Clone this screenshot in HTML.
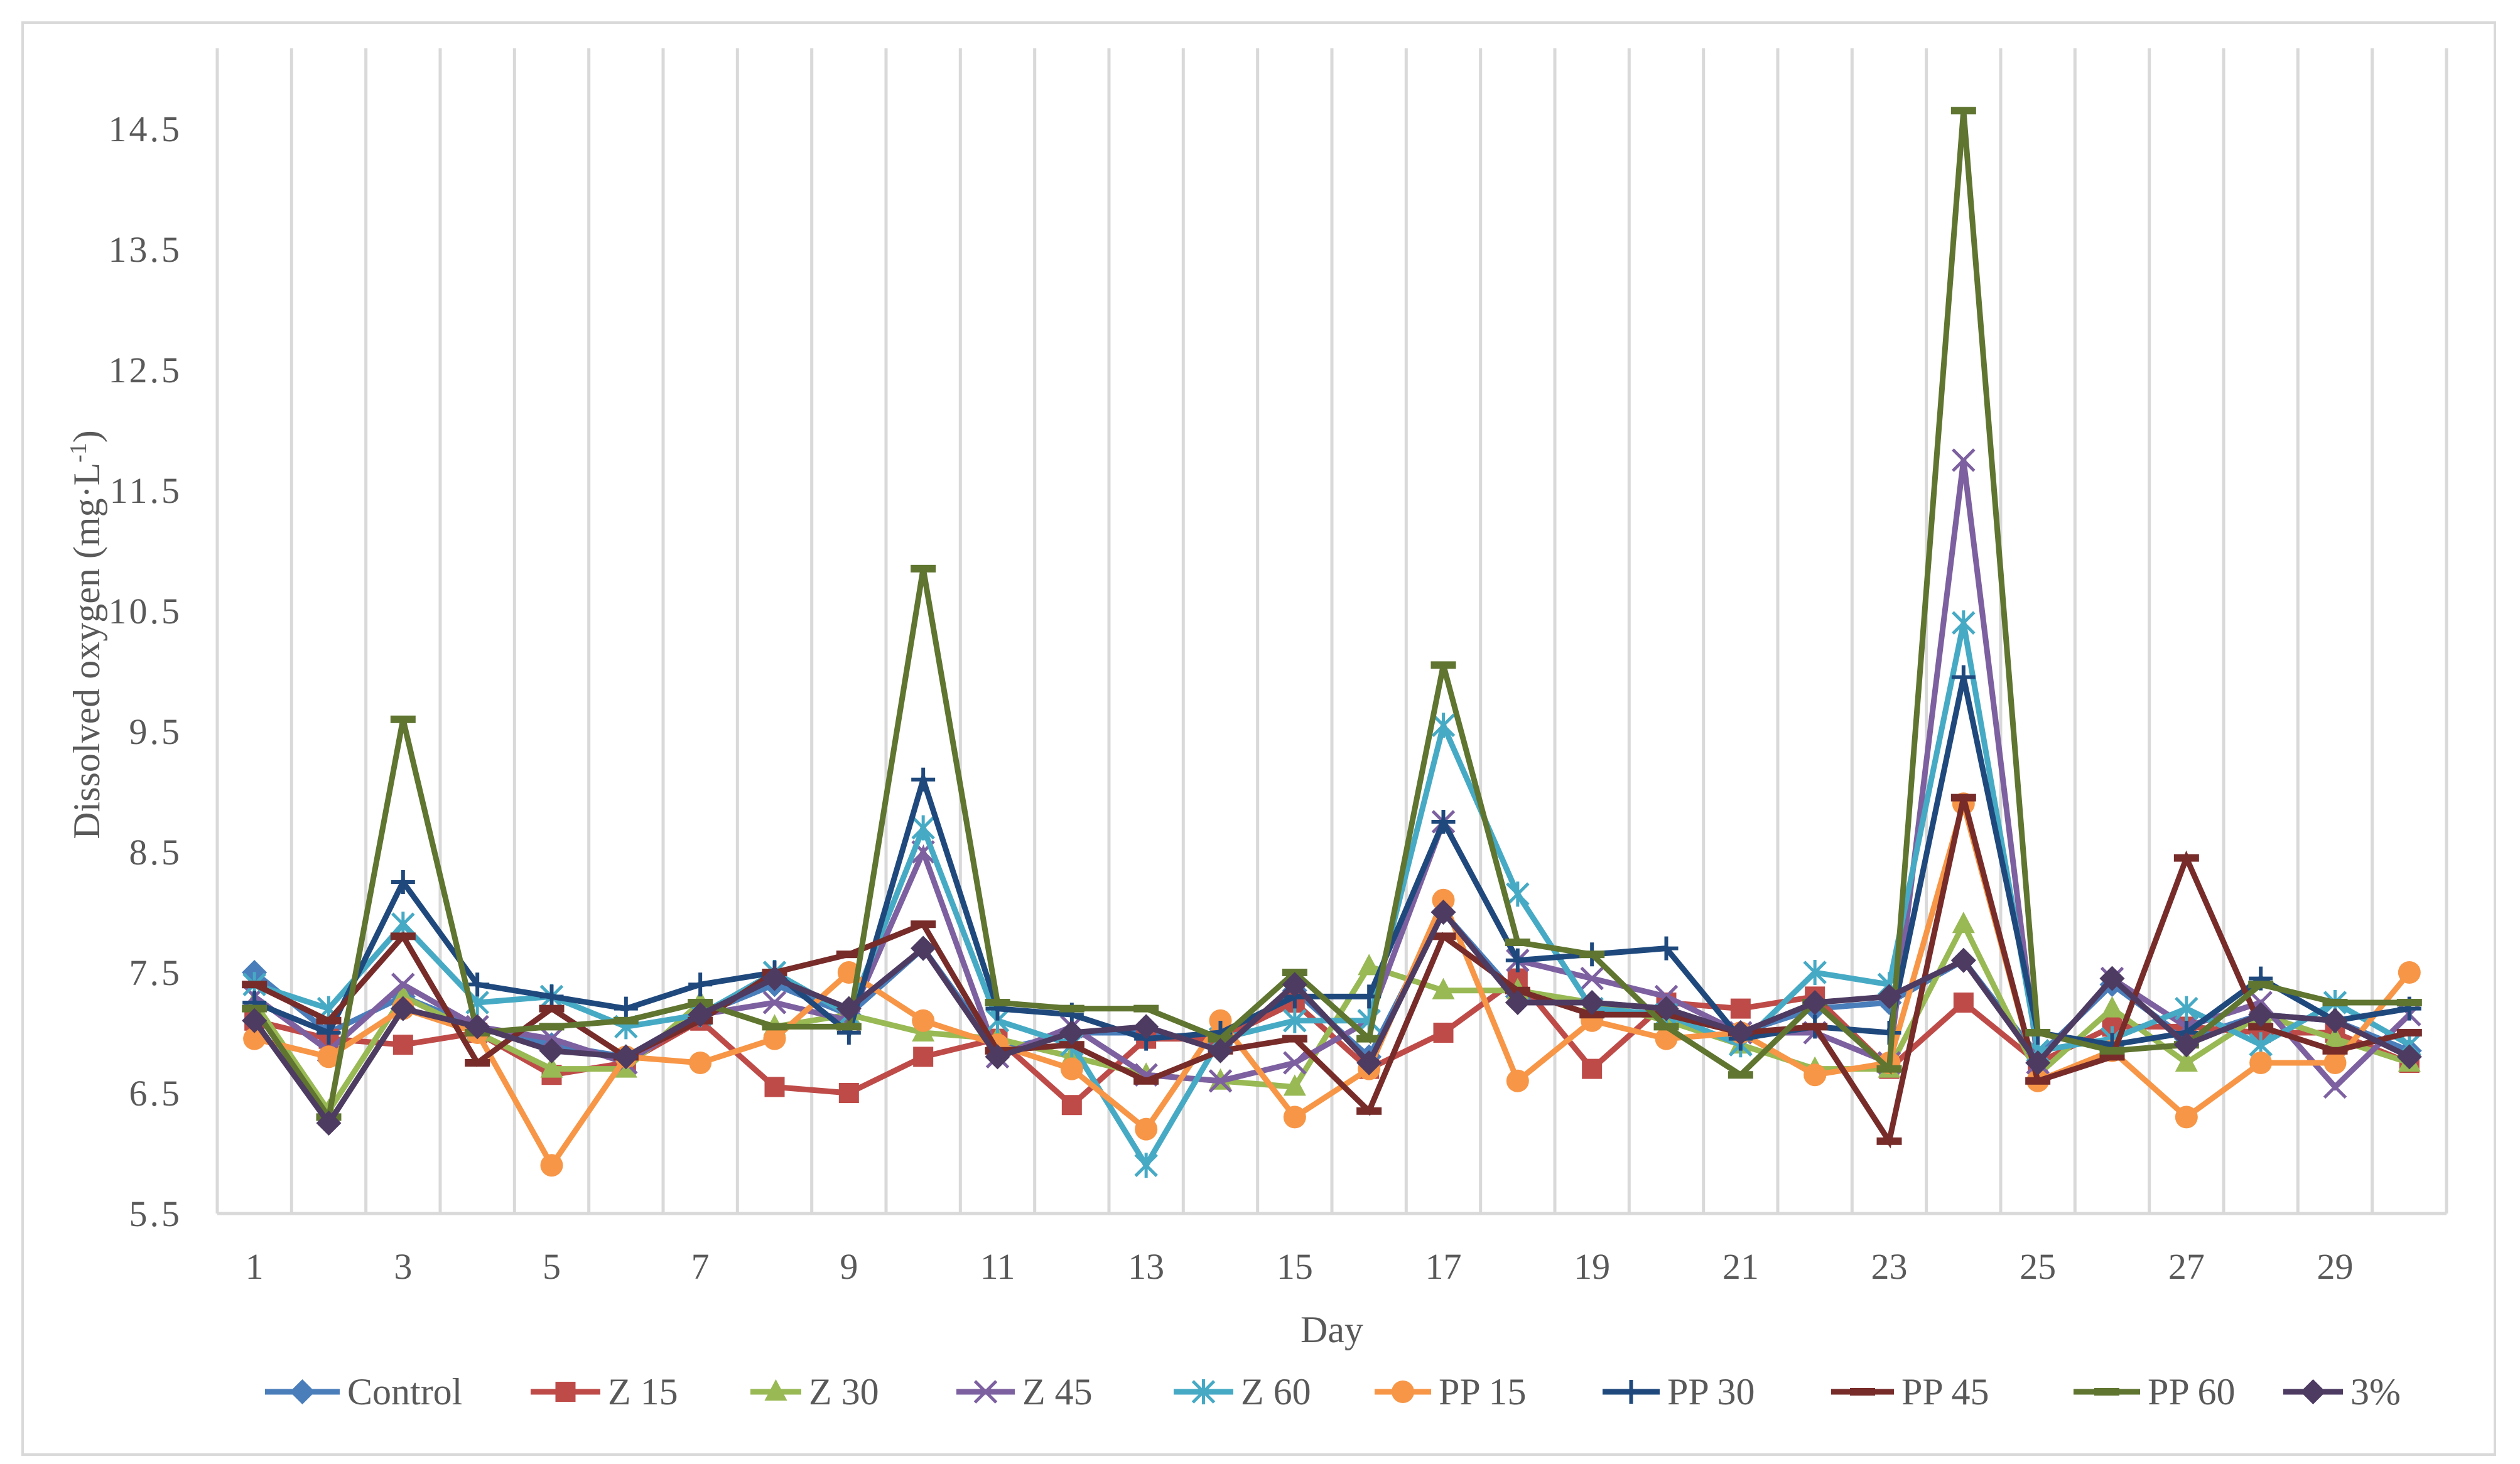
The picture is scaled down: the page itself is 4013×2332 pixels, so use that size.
<!DOCTYPE html>
<html><head><meta charset="utf-8"><style>
html,body{margin:0;padding:0;background:#fff;}
svg{display:block;font-family:"Liberation Serif",serif;}
</style></head><body>
<svg id="chart" width="4013" height="2332" viewBox="0 0 4013 2332" xmlns="http://www.w3.org/2000/svg">
<rect x="36" y="36" width="3937" height="2281" fill="#fff" stroke="#d9d9d9" stroke-width="4"/>
<g id="grid"></g><g id="axes"></g><g id="series"></g><g id="legend"></g>
<text transform="translate(158,1011) rotate(-90)" text-anchor="middle" font-size="60" fill="#595959">Dissolved oxygen (mg·L<tspan baseline-shift="super" font-size="38">-1</tspan>)</text>
<text x="2121" y="2138" text-anchor="middle" font-size="60" fill="#595959">Day</text>
</svg>
<script>
const days = Array.from({length:30},(_,i)=>i+1);
const yTicks = [5.5,6.5,7.5,8.5,9.5,10.5,11.5,12.5,13.5,14.5];
const seriesNames = ["Control","Z 15","Z 30","Z 45","Z 60","PP 15","PP 30","PP 45","PP 60","3%"];
const control = [7.5,7.0,7.3,7.05,6.9,6.8,7.15,7.4,7.15,7.7,6.85,7.0,7.0,6.9,7.35,6.8,8.0,7.3,7.25,7.2,7.0,7.2,7.25,7.6,6.8,7.4,6.95,7.15,7.1,6.85];
const z15 = [7.1,6.95,6.9,7.0,6.65,6.75,7.1,6.55,6.5,6.8,6.95,6.4,6.95,6.95,7.25,6.7,7.0,7.45,6.7,7.25,7.2,7.3,6.7,7.25,6.75,7.05,7.05,7.0,7.0,6.75];
const z30 = [7.25,6.35,7.3,7.0,6.7,6.7,7.25,7.05,7.15,7.0,6.95,6.8,6.65,6.6,6.55,7.55,7.35,7.35,7.25,7.1,6.9,6.7,6.7,7.9,6.65,7.2,6.75,7.15,6.95,6.75];
const z45 = [7.3,6.85,7.4,7.05,6.95,6.75,7.15,7.25,7.1,8.5,6.8,7.05,6.65,6.6,6.75,7.1,8.75,7.6,7.45,7.3,7.0,7.0,6.75,11.75,6.75,7.45,7.05,7.25,6.55,7.15];
const z60 = [7.4,7.2,7.9,7.25,7.3,7.05,7.15,7.5,7.15,8.7,7.1,6.9,5.9,6.95,7.1,7.1,9.55,8.15,7.2,7.15,6.9,7.5,7.4,10.4,6.85,6.95,7.2,6.9,7.25,6.9];
const pp15 = [6.95,6.8,7.2,7.0,5.9,6.8,6.75,6.95,7.5,7.1,6.9,6.7,6.2,7.1,6.3,6.7,8.1,6.6,7.1,6.95,7.0,6.65,6.75,8.9,6.6,6.85,6.3,6.75,6.75,7.5];
const pp30 = [7.25,7.0,8.25,7.4,7.3,7.2,7.4,7.5,7.0,9.1,7.2,7.15,6.95,7.0,7.3,7.3,8.75,7.6,7.65,7.7,6.95,7.05,7.0,9.95,7.0,6.9,7.0,7.45,7.1,7.2];
const pp45 = [7.4,7.1,7.8,6.75,7.2,6.8,7.1,7.5,7.65,7.9,6.85,6.9,6.6,6.85,6.95,6.35,7.8,7.35,7.15,7.15,7.0,7.05,6.1,8.95,6.6,6.8,8.45,7.05,6.85,7.0];
const pp60 = [7.2,6.3,9.6,7.0,7.05,7.1,7.25,7.05,7.05,10.85,7.25,7.2,7.2,6.95,7.5,6.95,10.05,7.75,7.65,7.05,6.65,7.25,6.7,14.65,7.0,6.85,6.9,7.4,7.25,7.25];
const pct3 = [7.1,6.25,7.2,7.05,6.85,6.8,7.15,7.45,7.2,7.7,6.8,7.0,7.05,6.85,7.4,6.75,8.0,7.25,7.25,7.2,7.0,7.25,7.3,7.6,6.75,7.45,6.9,7.15,7.1,6.8];

const NS="http://www.w3.org/2000/svg";
const L=346,R=3896,T=77,B=1933,Y0=5.5,Y1=14.5,Ytop=205;
const band=(R-L)/days.length;
const x=d=>L+band*(d-0.5);
const y=v=>B-(v-Y0)/(Y1-Y0)*(B-Ytop);
function mk(tag,attrs,parent){const e=document.createElementNS(NS,tag);for(const k in attrs)e.setAttribute(k,attrs[k]);parent.appendChild(e);return e;}
const grid=document.getElementById('grid'),axes=document.getElementById('axes'),sg=document.getElementById('series'),lg=document.getElementById('legend');
for(let k=0;k<=days.length;k++){
  const g=mk('line',{x1:L+band*k,x2:L+band*k,y1:T,y2:B,stroke:'#d9d9d9','stroke-width':5},grid);
  
  
}
const ax=mk('line',{x1:L,x2:R,y1:B,y2:B,stroke:'#d9d9d9','stroke-width':5},axes);


yTicks.forEach(v=>{
  const t=mk('text',{x:290,y:y(v)+20,'text-anchor':'end','font-size':58,fill:'#595959','letter-spacing':4},axes);
  t.textContent=v.toFixed(1);
  
  
});
days.forEach(d=>{ if(d%2===1){
  const t=mk('text',{x:x(d),y:2037,'text-anchor':'middle','font-size':58,fill:'#595959'},axes);
  t.textContent=d;
  
  
}});
const allData=[control,z15,z30,z45,z60,pp15,pp30,pp45,pp60,pct3];
const colors=["#4A7EBB","#BE4B48","#98B954","#7D60A0","#46AAC5","#F79646","#1F497D","#772C2A","#5F7530","#4D3B62"];
const markers=["diamond","square","triangle","x","star","circle","plus","dash","dash","diamond"];
function marker(type,cx,cy,c,p,s){
  s=s||1;
  let e;
  if(type==="diamond") e=mk('path',{d:`M${cx} ${cy-20*s}L${cx+20*s} ${cy}L${cx} ${cy+20*s}L${cx-20*s} ${cy}Z`,fill:c},p);
  else if(type==="square") e=mk('rect',{x:cx-16*s,y:cy-16*s,width:32*s,height:32*s,fill:c},p);
  else if(type==="triangle") e=mk('path',{d:`M${cx} ${cy-20*s}L${cx+18*s} ${cy+14*s}L${cx-18*s} ${cy+14*s}Z`,fill:c},p);
  else if(type==="circle") e=mk('circle',{cx:cx,cy:cy,r:18*s,fill:c},p);
  else if(type==="x") e=mk('path',{d:`M${cx-17*s} ${cy-17*s}L${cx+17*s} ${cy+17*s}M${cx+17*s} ${cy-17*s}L${cx-17*s} ${cy+17*s}`,stroke:c,'stroke-width':5,fill:'none'},p);
  else if(type==="star") e=mk('path',{d:`M${cx-17*s} ${cy-17*s}L${cx+17*s} ${cy+17*s}M${cx+17*s} ${cy-17*s}L${cx-17*s} ${cy+17*s}M${cx} ${cy-20*s}L${cx} ${cy+20*s}`,stroke:c,'stroke-width':5,fill:'none'},p);
  else if(type==="plus") e=mk('path',{d:`M${cx-19*s} ${cy}L${cx+19*s} ${cy}M${cx} ${cy-19*s}L${cx} ${cy+19*s}`,stroke:c,'stroke-width':6,fill:'none'},p);
  else e=mk('rect',{x:cx-20*s,y:cy-6,width:40*s,height:12,fill:c},p);
  return e;
}
allData.forEach((vals,si)=>{
  const g=mk('g',{},sg);
  
  
  const pl=mk('polyline',{points:vals.map((v,i)=>x(days[i])+','+y(v)).join(' '),fill:'none',stroke:colors[si],'stroke-width':9,'stroke-linejoin':'miter'},g);
  
  
  vals.forEach((v,i)=>{
    const m=marker(markers[si],x(days[i]),y(v),colors[si],g);
    
    
  });
});
const legX=[422,845,1195,1523,1869,2189,2552,2916,3302,3636];
const legTextX=[553,968,1288,1628,1976,2291,2655,3028,3420,3743];
seriesNames.forEach((n,i)=>{
  const g=mk('g',{},lg);
  
  
  const len=legTextX[i]-legX[i]-12;
  mk('line',{x1:legX[i],x2:legX[i]+len,y1:2217,y2:2217,stroke:colors[i],'stroke-width':9},g);
  marker(markers[i],legX[i]+len/2,2217,colors[i],g,1);
  const t=mk('text',{x:legTextX[i],y:2237,'font-size':60,fill:'#595959'},g);
  t.textContent=n;
});
</script>
</body></html>
